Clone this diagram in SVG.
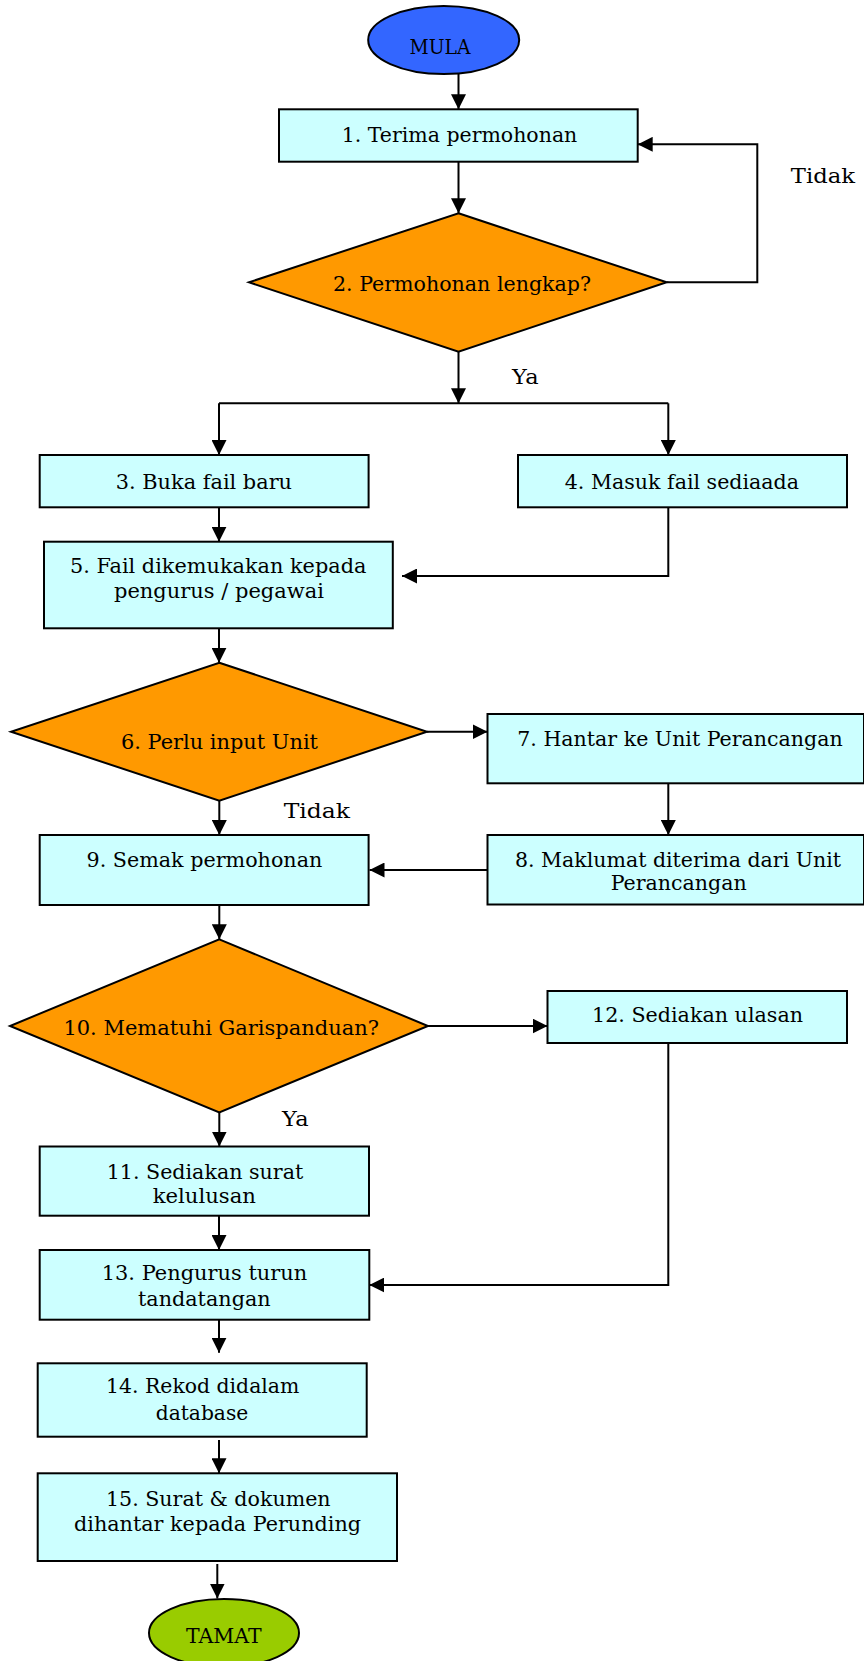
<svg xmlns="http://www.w3.org/2000/svg" width="864" height="1661" viewBox="0 0 864 1661">
<style>
.box{fill:#CCFFFF;stroke:#000;stroke-width:2}
.dia{fill:#FF9900;stroke:#000;stroke-width:2}
.t{font-family:"DejaVu Serif","Liberation Serif",serif;font-size:19.5px;fill:#000;text-anchor:middle}
.c{fill:none;stroke:#000;stroke-width:2}
</style>
<defs>
<marker id="ah" markerUnits="userSpaceOnUse" markerWidth="15" markerHeight="15" refX="15" refY="7.5" orient="auto">
<path d="M0,0 L15,7.5 L0,15 z" fill="#000"/>
</marker>
</defs>
<rect width="864" height="1661" fill="#fff"/>
<g id="connectors">
<path class="c" d="M458.5,74 V109.3" marker-end="url(#ah)"/>
<path class="c" d="M458.5,161.7 V213.3" marker-end="url(#ah)"/>
<path class="c" d="M666.7,282.3 H757.3 V144.3 H637.7" marker-end="url(#ah)"/>
<path class="c" d="M458.5,351.7 V403.3" marker-end="url(#ah)"/>
<path class="c" d="M219,403.3 H668.3"/>
<path class="c" d="M219,403.3 V455" marker-end="url(#ah)"/>
<path class="c" d="M668.3,403.3 V455" marker-end="url(#ah)"/>
<path class="c" d="M219,507.3 V541.7" marker-end="url(#ah)"/>
<path class="c" d="M668.3,507.3 V576 H402" marker-end="url(#ah)"/>
<path class="c" d="M219,628.3 V662.7" marker-end="url(#ah)"/>
<path class="c" d="M427,731.7 H487.5" marker-end="url(#ah)"/>
<path class="c" d="M668.3,783.3 V835" marker-end="url(#ah)"/>
<path class="c" d="M487.5,870 H369.5" marker-end="url(#ah)"/>
<path class="c" d="M219.3,800.7 V835" marker-end="url(#ah)"/>
<path class="c" d="M219.3,905 V939.3" marker-end="url(#ah)"/>
<path class="c" d="M428,1026 H547.5" marker-end="url(#ah)"/>
<path class="c" d="M668.3,1043 V1285 H369.3" marker-end="url(#ah)"/>
<path class="c" d="M219.3,1112.3 V1146.5" marker-end="url(#ah)"/>
<path class="c" d="M219,1215.7 V1250" marker-end="url(#ah)"/>
<path class="c" d="M219,1319.7 V1352.7" marker-end="url(#ah)"/>
<path class="c" d="M219,1440 V1473.3" marker-end="url(#ah)"/>
<path class="c" d="M217.3,1564 V1598.5" marker-end="url(#ah)"/>
</g>
<g id="mula">
<ellipse cx="443.7" cy="40" rx="75.5" ry="34" fill="#3366FF" stroke="#000" stroke-width="2"/>
<text class="t" x="440" y="54" textLength="61" lengthAdjust="spacingAndGlyphs">MULA</text>
</g>
<g id="n1">
<rect class="box" x="279" y="109.3" width="358.7" height="52.4"/>
<text class="t" x="459.5" y="142" textLength="235.6" lengthAdjust="spacingAndGlyphs">1. Terima permohonan</text>
</g>
<g id="n2">
<polygon class="dia" points="458.5,213.3 666.7,282.3 458.5,351.7 249,282.3"/>
<text class="t" x="462" y="290.5" textLength="258" lengthAdjust="spacingAndGlyphs">2. Permohonan lengkap?</text>
</g>
<g id="lbl-tidak1"><text class="t" x="823" y="183.3" textLength="64.3" lengthAdjust="spacingAndGlyphs">Tidak</text></g>
<g id="lbl-ya1"><text class="t" x="525.3" y="384" textLength="26.5" lengthAdjust="spacingAndGlyphs">Ya</text></g>
<g id="n3">
<rect class="box" x="39.7" y="455" width="328.9" height="52.3"/>
<text class="t" x="203.9" y="489" textLength="176.3" lengthAdjust="spacingAndGlyphs">3. Buka fail baru</text>
</g>
<g id="n4">
<rect class="box" x="518" y="455" width="329" height="52.3"/>
<text class="t" x="681.9" y="489" textLength="234.3" lengthAdjust="spacingAndGlyphs">4. Masuk fail sediaada</text>
</g>
<g id="n5">
<rect class="box" x="44" y="541.7" width="348.8" height="86.6"/>
<text class="t" x="218.2" y="572.7" textLength="296.4" lengthAdjust="spacingAndGlyphs">5. Fail dikemukakan kepada</text>
<text class="t" x="219" y="598" textLength="210" lengthAdjust="spacingAndGlyphs">pengurus / pegawai</text>
</g>
<g id="n6">
<polygon class="dia" points="219.3,662.7 427,731.7 219.3,800.7 11,731.7"/>
<text class="t" x="219.5" y="749.3" textLength="197" lengthAdjust="spacingAndGlyphs">6. Perlu input Unit</text>
</g>
<g id="n7">
<rect class="box" x="487.5" y="714" width="376.5" height="69.3"/>
<text class="t" x="680" y="745.7" textLength="325.4" lengthAdjust="spacingAndGlyphs">7. Hantar ke Unit Perancangan</text>
</g>
<g id="n8">
<rect class="box" x="487.5" y="835" width="376.5" height="69.5"/>
<text class="t" x="678" y="866.7" textLength="326" lengthAdjust="spacingAndGlyphs">8. Maklumat diterima dari Unit</text>
<text class="t" x="678.7" y="890" textLength="136" lengthAdjust="spacingAndGlyphs">Perancangan</text>
</g>
<g id="lbl-tidak2"><text class="t" x="316.8" y="818.3" textLength="66.3" lengthAdjust="spacingAndGlyphs">Tidak</text></g>
<g id="n9">
<rect class="box" x="39.7" y="835" width="328.9" height="70"/>
<text class="t" x="204.4" y="867" textLength="235.8" lengthAdjust="spacingAndGlyphs">9. Semak permohonan</text>
</g>
<g id="n10">
<polygon class="dia" points="219.3,939.3 428,1026 219.3,1112.3 10,1026"/>
<text class="t" x="221.2" y="1035" textLength="315.6" lengthAdjust="spacingAndGlyphs">10. Mematuhi Garispanduan?</text>
</g>
<g id="n12">
<rect class="box" x="547.5" y="991" width="299.5" height="52"/>
<text class="t" x="697.5" y="1021.7" textLength="211" lengthAdjust="spacingAndGlyphs">12. Sediakan ulasan</text>
</g>
<g id="lbl-ya2"><text class="t" x="295.3" y="1126" textLength="26.5" lengthAdjust="spacingAndGlyphs">Ya</text></g>
<g id="n11">
<rect class="box" x="39.7" y="1146.5" width="329.3" height="69.2"/>
<text class="t" x="205" y="1179" textLength="196.6" lengthAdjust="spacingAndGlyphs">11. Sediakan surat</text>
<text class="t" x="204.3" y="1202.7" textLength="103.3" lengthAdjust="spacingAndGlyphs">kelulusan</text>
</g>
<g id="n13">
<rect class="box" x="39.7" y="1250" width="329.6" height="69.7"/>
<text class="t" x="204.5" y="1280" textLength="205.6" lengthAdjust="spacingAndGlyphs">13. Pengurus turun</text>
<text class="t" x="204.3" y="1306" textLength="132.7" lengthAdjust="spacingAndGlyphs">tandatangan</text>
</g>
<g id="n14">
<rect class="box" x="37.7" y="1363.3" width="329" height="73.4"/>
<text class="t" x="202.7" y="1393.3" textLength="193.3" lengthAdjust="spacingAndGlyphs">14. Rekod didalam</text>
<text class="t" x="202" y="1420" textLength="92.6" lengthAdjust="spacingAndGlyphs">database</text>
</g>
<g id="n15">
<rect class="box" x="37.7" y="1473.3" width="359.3" height="87.7"/>
<text class="t" x="218.3" y="1506" textLength="224.7" lengthAdjust="spacingAndGlyphs">15. Surat &amp; dokumen</text>
<text class="t" x="217.5" y="1530.7" textLength="287" lengthAdjust="spacingAndGlyphs">dihantar kepada Perunding</text>
</g>
<g id="tamat">
<ellipse cx="224" cy="1633" rx="75" ry="34" fill="#99CC00" stroke="#000" stroke-width="2"/>
<text class="t" x="223.8" y="1642.7" textLength="75.7" lengthAdjust="spacingAndGlyphs">TAMAT</text>
</g>
</svg>
